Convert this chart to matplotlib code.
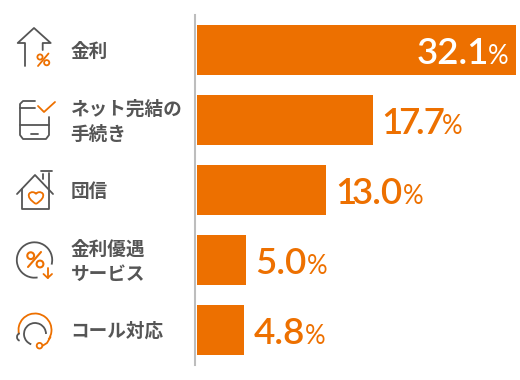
"""Orange bar chart of reasons, with line icons next to the labels."""
import matplotlib
matplotlib.use("Agg")
import matplotlib.pyplot as plt
from matplotlib.patches import Arc, Circle, PathPatch
from matplotlib.path import Path

labels = ["金利", "ネット完結の\n手続き", "団信", "金利優遇\nサービス", "コール対応"]
values = [32.1, 17.7, 13.0, 5.0, 4.8]
value_labels = ["32.1", "17.7", "13.0", "5.0", "4.8"]

ORANGE = "#ed7000"
GREY = "#555555"
W, H = 520, 380

plt.rcParams["font.family"] = ["Noto Sans CJK JP", "DejaVu Sans"]
fig = plt.figure(figsize=(W / 100, H / 100), dpi=100)

# bars, in data units
ax = fig.add_axes([196.5 / W, 1 - 365 / H, (516 - 196.5) / W, 350 / H])
ax.barh(range(len(values)), values, height=50 / 70, color=ORANGE)
ax.set_xlim(0, values[0])
ax.set_ylim(len(values) - 0.5, -0.5)
ax.set_xticks([])
ax.set_yticks([])
for side in ["top", "right", "bottom"]:
    ax.spines[side].set_visible(False)
ax.spines["left"].set_color("#bdbdbd")
ax.spines["left"].set_linewidth(1.5)
ax.spines["left"].set_position(("outward", 1.1))

renderer = fig.canvas.get_renderer()
# Lato's digits are tabular; the reference closes up after 1 and 7, so split the label there
TIGHTEN = {"1": 5, "7": 4}
for i, (v, s) in enumerate(zip(values, value_labels)):
    inside = i == 0
    color = "white" if inside else ORANGE
    dx = -99 if inside else 9
    runs, run = [], ""
    for ch in s:
        run += ch
        if ch in TIGHTEN and not inside:
            runs.append(run)
            run = ""
    if run:
        runs.append(run)
    for part in runs:
        t = ax.annotate(part, xy=(v, i), xytext=(dx, -13.5), textcoords="offset pixels",
                        ha="left", va="baseline", color=color, fontsize=26.5,
                        family="Lato", fontweight="semibold")
        dx += t.get_window_extent(renderer).width
        if not inside:
            dx -= TIGHTEN.get(part[-1], 0)
    if inside:
        dx -= 2
    ax.annotate("%", xy=(v, i), xytext=(dx, -13.5), textcoords="offset pixels",
                ha="left", va="baseline", color=color, fontsize=18.5, family="Lato")

# icons and labels, in pixels of the picture
ov = fig.add_axes([0, 0, 1, 1], facecolor="none")
ov.set_xlim(0, W)
ov.set_ylim(H, 0)
ov.axis("off")

for i, lab in enumerate(labels):
    ov.text(70.5, 51.5 + 70 * i, lab, ha="left", va="center", fontsize=13.4,
            fontweight="bold", color=GREY, linespacing=1.4)


def line(pts, color=GREY, lw=1.3):
    xs, ys = zip(*pts)
    ov.plot(xs, ys, color=color, lw=lw, solid_capstyle="round", solid_joinstyle="round")


def arc(cx, cy, r, t1, t2, color=GREY, lw=1.3):
    ov.add_patch(Arc((cx, cy), 2 * r, 2 * r, theta1=t1, theta2=t2, color=color, lw=lw))


def ring(cx, cy, r, color=ORANGE, lw=1.3):
    ov.add_patch(Circle((cx, cy), r, fill=False, edgecolor=color, lw=lw))


# arrow with percent
line([(25, 66), (25, 43), (17.7, 43), (34, 28), (50.7, 43), (42.7, 43), (42.7, 50)])
line([(38, 66), (48.5, 53.5)], ORANGE)
ring(40, 57, 2.6)
ring(46.7, 62.7, 2.6)

# phone with tick
line([(35, 101), (23, 101), (20, 104), (20, 135), (23, 139), (46, 139), (49, 135), (49, 117)])
line([(20, 108), (35, 108)])
line([(20, 125), (49, 125)])
line([(31, 133.5), (38, 133.5)])
line([(38, 106), (44, 112), (55, 102)], ORANGE)

# house with heart
line([(17, 194), (35, 175), (53, 194)])
line([(22, 189), (22, 209), (49, 209), (49, 173)])
line([(41, 171), (52, 171)])
line([(43, 174), (43, 179)])
heart = Path([(36, 204), (30, 200), (28, 197), (29, 194), (31, 191), (35, 192), (36, 194),
              (37, 192), (41, 191), (43, 194), (44, 197), (42, 200), (36, 204)],
             [Path.MOVETO] + [Path.CURVE4] * 12)
ov.add_patch(PathPatch(heart, fill=False, edgecolor=ORANGE, lw=1.3))

# circle with percent and down arrow
arc(34.5, 260, 17.7, 80, 375)
line([(28, 267), (41, 252)], ORANGE, 1.5)
ring(30.7, 255.7, 3.4, lw=1.5)
ring(40, 264, 3.4, lw=1.5)
line([(47.7, 268), (47.7, 278)], ORANGE)
line([(43.5, 274), (47.7, 278), (52, 274)], ORANGE)

# headset
arc(35, 330, 16.5, 165, 395, ORANGE)
line([(50.5, 337), (47, 343), (43, 345.5)], ORANGE)
ring(39.5, 345.7, 2.8)
arc(35, 334, 11, 110, 360)
arc(21, 337, 4, 110, 250)

fig.savefig("out.png", dpi=100)
